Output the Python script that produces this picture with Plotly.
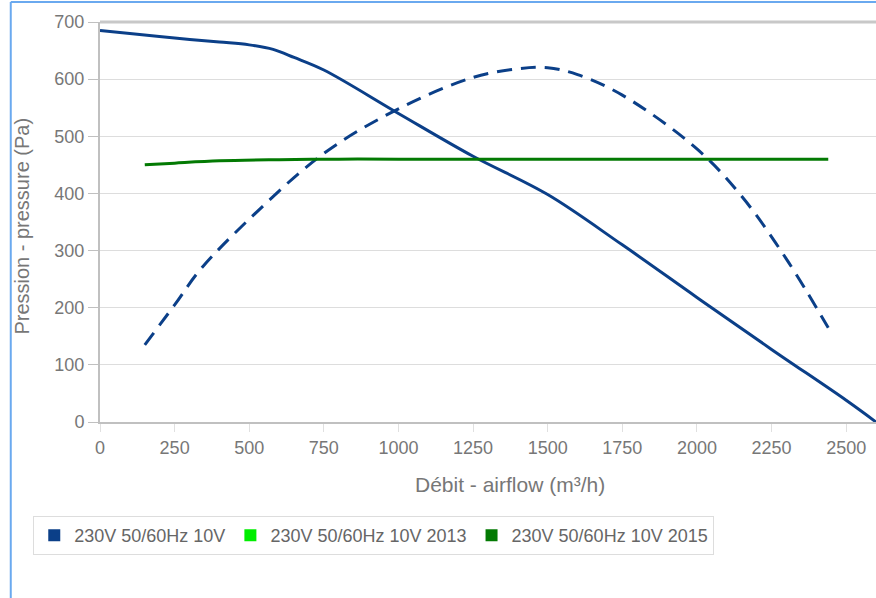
import plotly.graph_objects as go

# Data
solid_x = [0, 100, 250, 400, 500, 580, 650, 750, 1000, 1250, 1500, 1750, 2000, 2250, 2500, 2600]
solid_y = [685, 680, 672, 665, 660, 652, 638, 616, 540, 465, 398, 310, 218, 127, 38, 0]

dash_x = [150, 250, 335, 500, 750, 1000, 1250, 1400, 1500, 1600, 1750, 2000, 2150, 2300, 2440]
dash_y = [135, 205, 266, 355, 470, 548, 603, 618, 620, 608, 572, 478, 395, 285, 165]

green_x = [150, 250, 400, 600, 800, 1000, 1500, 2000, 2440]
green_y = [450, 453, 457, 459, 460, 460, 460, 460, 460]

legend_names = ["230V 50/60Hz 10V", "230V 50/60Hz 10V 2013", "230V 50/60Hz 10V 2015"]
legend_colors = ["#0b3f88", "#00ee00", "#037a03"]

x_ticks = [0, 250, 500, 750, 1000, 1250, 1500, 1750, 2000, 2250, 2500]
y_ticks = [0, 100, 200, 300, 400, 500, 600, 700]

x_title = "Débit - airflow (m³/h)"
y_title = "Pression - pressure (Pa)"

fig = go.Figure()
fig.add_trace(go.Scatter(x=solid_x, y=solid_y, mode="lines", line=dict(color=legend_colors[0], width=3, shape="spline"), showlegend=False))
fig.add_trace(go.Scatter(x=dash_x, y=dash_y, mode="lines", line=dict(color=legend_colors[0], width=3, dash="15px,9px", shape="spline"), showlegend=False))
fig.add_trace(go.Scatter(x=green_x, y=green_y, mode="lines", line=dict(color=legend_colors[2], width=3, shape="spline"), showlegend=False))
for name, col in zip(legend_names, legend_colors):
    fig.add_trace(go.Scatter(x=[None], y=[None], mode="markers", name=name,
                             marker=dict(symbol="square", size=18, color=col)))

font = "Liberation Sans, Arial, sans-serif"
fig.update_layout(
    width=876, height=598,
    margin=dict(l=100, r=0, t=22, b=176),
    paper_bgcolor="white", plot_bgcolor="white",
    font=dict(family=font, color="#666666", size=16),
    xaxis=dict(range=[0, 2600], tickvals=x_ticks, showgrid=False, zeroline=False,
               showline=True, linecolor="#c0c0c0", linewidth=2,
               ticks="outside", ticklen=8, tickcolor="#e0e0e0",
               tickfont=dict(size=18, color="#777777")),
    yaxis=dict(range=[0, 700], tickvals=y_ticks, showgrid=True, gridcolor="#dddddd", zeroline=False,
               showline=True, linecolor="#c0c0c0", linewidth=2,
               ticks="outside", ticklen=10, tickcolor="#c0c0c0",
               tickfont=dict(size=18, color="#777777")),
    legend=dict(orientation="h", x=-0.086, y=-0.235, xanchor="left", yanchor="top",
                bordercolor="#dddddd", borderwidth=1, bgcolor="white",
                font=dict(size=18, color="#666666"), itemsizing="constant"),
    annotations=[
        dict(text=x_title, xref="paper", yref="paper", x=0.528, y=-0.157,
             xanchor="center", yanchor="middle", showarrow=False,
             font=dict(size=21, color="#777777")),
        dict(text=y_title, xref="paper", yref="paper", x=-0.101, y=0.49,
             xanchor="center", yanchor="middle", showarrow=False, textangle=-90,
             font=dict(size=20, color="#777777")),
    ],
    shapes=[
        dict(type="line", xref="paper", yref="paper", x0=0, x1=1, y0=1, y1=1,
             line=dict(color="#c8c8c8", width=3)),
        dict(type="line", xref="paper", yref="paper", x0=-0.115, x1=-0.115, y0=-0.45, y1=1.05,
             line=dict(color="#6aa9ef", width=2)),
        dict(type="line", xref="paper", yref="paper", x0=-0.115, x1=1.0, y0=1.05, y1=1.05,
             line=dict(color="#6aa9ef", width=2)),
    ],
)

fig.write_html("out.html", config={"displayModeBar": False},
               post_script="document.body.style.margin='0px';")
